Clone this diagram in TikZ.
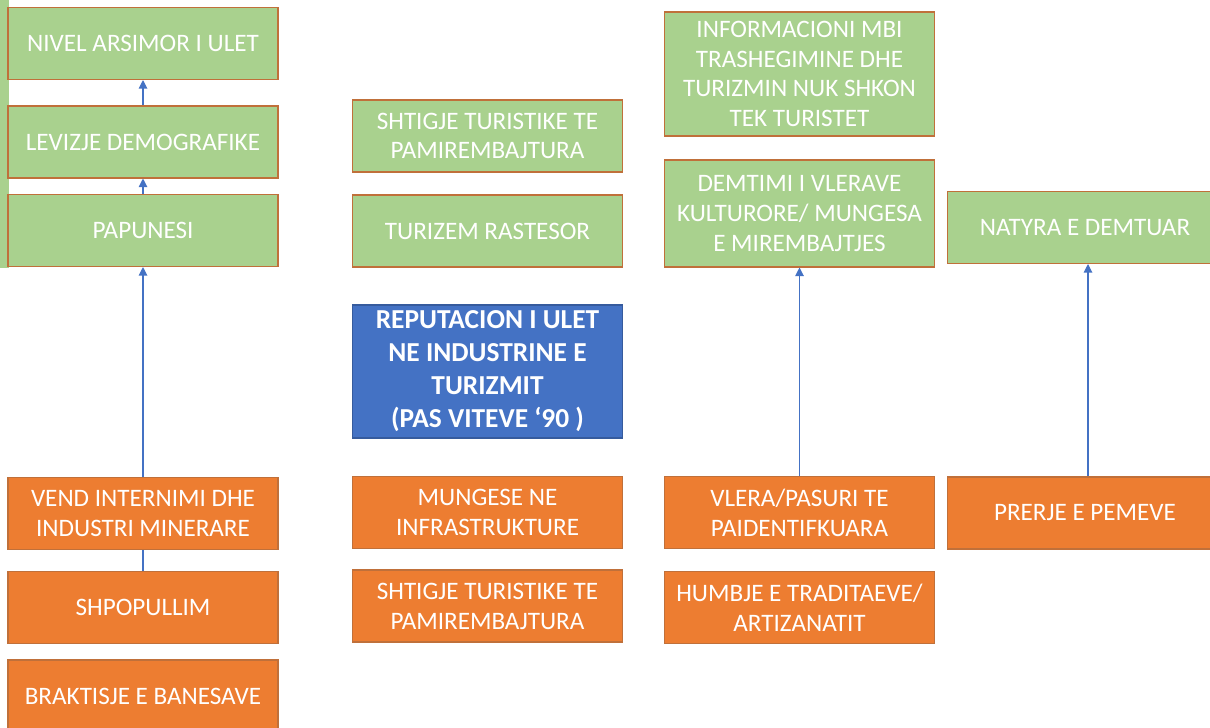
\documentclass[tikz,border=0pt]{standalone}
\usepackage{fontspec}
\setmainfont{Carlito}
\usepackage{tikz}
\usetikzlibrary{arrows.meta}
\usetikzlibrary{calc}

\definecolor{boxgreen}{HTML}{A9D18E}
\definecolor{boxorange}{HTML}{ED7D31}
\definecolor{boxblue}{HTML}{4472C4}
\definecolor{boxrim}{HTML}{C0703A}
\definecolor{linkblue}{HTML}{4472C4}

\tikzset{
	box/.style={draw=boxrim, line width=0.6pt, text=white, align=center,
		minimum width=5.4cm, minimum height=1.44cm, inner sep=0pt,
		font=\fontsize{14.3}{17}\selectfont},
	greenbox/.style={box, fill=boxgreen},
	orangebox/.style={box, fill=boxorange},
	bluebox/.style={box, fill=boxblue, draw=boxblue!80!black,
		font=\fontsize{15.6}{18.8}\selectfont\bfseries},
	link/.style={draw=linkblue, line width=0.6pt},
	arrowlink/.style={link, -{Triangle[length=0.17cm,width=0.17cm]}}
}

\begin{document}
\begin{tikzpicture}[x=0.02cm, y=-0.02cm]
	
	\useasboundingbox (0,0) rectangle (1210,727);
	
	% Edge of a cut off box
	\fill [boxgreen] (-100,-20) rectangle (9,268);
	
	% Column 1
	\node [greenbox] (nivel) at (143,43.5) {NIVEL ARSIMOR I ULET};
	\node [greenbox] (levizje) at (143,142) {LEVIZJE DEMOGRAFIKE};
	\node [greenbox] (papunesi) at (143,230.5) {PAPUNESI};
	\node [orangebox] (vend) at (143,513.5) {VEND INTERNIMI DHE\\INDUSTRI MINERARE};
	\node [orangebox] (shpopullim) at (143,607.5) {SHPOPULLIM};
	\node [orangebox] (braktisje) at (143,696) {BRAKTISJE E BANESAVE};
	
	% Column 2
	\node [greenbox] (shtigjeA) at (487.5,136) {SHTIGJE TURISTIKE TE\\PAMIREMBAJTURA};
	\node [greenbox] (rastesor) at (487.5,231) {TURIZEM RASTESOR};
	\node [bluebox, minimum height=2.66cm] (reputacion) at (487.5,371.5)
		{REPUTACION I ULET\\NE INDUSTRINE E\\TURIZMIT\\(PAS VITEVE ‘90 )};
	\node [orangebox] (mungese) at (487.5,512.5) {MUNGESE NE\\INFRASTRUKTURE};
	\node [orangebox] (shtigjeB) at (487.5,606) {SHTIGJE TURISTIKE TE\\PAMIREMBAJTURA};
	
	% Column 3
	\node [greenbox, minimum height=2.48cm] (informacioni) at (799.5,74)
		{INFORMACIONI MBI\\TRASHEGIMINE DHE\\TURIZMIN NUK SHKON\\TEK TURISTET};
	\node [greenbox, minimum height=2.14cm] (demtimi) at (799.5,213.5)
		{DEMTIMI I VLERAVE\\KULTURORE/ MUNGESA\\E MIREMBAJTJES};
	\node [orangebox] (vlera) at (799.5,512.5) {VLERA/PASURI TE\\PAIDENTIFKUARA};
	\node [orangebox] (humbje) at (799.5,607.5) {HUMBJE E TRADITAEVE/\\ARTIZANATIT};
	
	% Column 4
	\node [greenbox, minimum width=5.5cm] (natyra) at (1085,227.5) {NATYRA E DEMTUAR};
	\node [orangebox, minimum width=5.5cm] (prerje) at (1085,513) {PRERJE E PEMEVE};
	
	% Arrows
	\draw [link] (shpopullim.north) -- (vend.south);
	\draw [arrowlink] (vend.north) -- (papunesi.south);
	\draw [arrowlink] (papunesi.north) -- (levizje.south);
	\draw [arrowlink] (levizje.north) -- (nivel.south);
	\draw [arrowlink] (vlera.north) -- (demtimi.south);
	\draw [arrowlink] ($ (prerje.north) + (3,0) $) -- ($ (natyra.south) + (3,0) $);
	
\end{tikzpicture}
\end{document}
